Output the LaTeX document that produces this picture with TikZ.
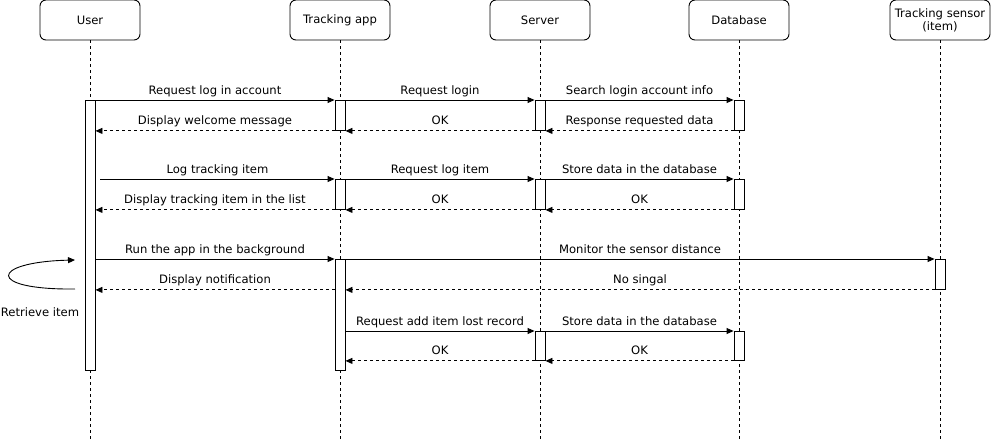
\documentclass[tikz,border=0pt]{standalone}
\usepackage{fontspec}
\setmainfont{DejaVu Sans}
\usepackage{tikz}
\usetikzlibrary{arrows.meta, positioning}
\definecolor{LineBlack}{HTML}{000000}

\tikzset{
  head/.style={draw=LineBlack, line width=0.9pt, rounded corners=6pt, fill=white,
               minimum width=100, minimum height=40, align=center, inner sep=1pt},
  life/.style={draw=LineBlack, line width=0.8pt, dash pattern=on 3pt off 3pt},
  act/.style={draw=LineBlack, line width=0.9pt, fill=white, minimum width=10,
              inner sep=0pt, anchor=north},
  call/.style={draw=LineBlack, line width=0.9pt, -{Triangle[length=7pt, width=6pt]}},
  reply/.style={call, dash pattern=on 3pt off 3pt},
  lbl/.style={anchor=base, yshift=6pt, inner sep=0pt},
}

\begin{document}
\begin{tikzpicture}[x=1pt, y=-1pt, font=\fontsize{11.6}{13}\selectfont]
  \useasboundingbox (0,0) rectangle (991,442);
  % Participants
  \node[head] (user)   at (90,20)  {User};
  \node[head] (app)    at (340,20) {Tracking app};
  \node[head] (server) at (540,20) {Server};
  \node[head] (db)     at (739,20) {Database};
  \node[head] (sensor) at (940,20) {Tracking sensor\\(item)};
  % Lifelines
  \foreach \p in {user, app, server, db, sensor}
    \draw[life] (\p.south) -- (\p.south |- 0,442);
  % Activation bars
  \node[act, minimum height=270] (uA)  at (90,100)  {};
  \node[act, minimum height=30]  (aA1) at (340,100) {};
  \node[act, minimum height=30]  (aA2) at (340,179) {};
  \node[act, minimum height=111] (aA3) at (340,259) {};
  \node[act, minimum height=30]  (sA1) at (540,100) {};
  \node[act, minimum height=30]  (sA2) at (540,179) {};
  \node[act, minimum height=29]  (sA3) at (540,331) {};
  \node[act, minimum height=30]  (dA1) at (739,100) {};
  \node[act, minimum height=30]  (dA2) at (739,179) {};
  \node[act, minimum height=29]  (dA3) at (739,331) {};
  \node[act, minimum height=30]  (nA)  at (940,259) {};
  % Log in
  \draw[call]  (uA.east |- aA1.north) -- node[lbl] {Request log in account} (aA1.north west);
  \draw[reply] (aA1.south west) -- node[lbl] {Display welcome message} (uA.east |- aA1.south);
  \draw[call]  (aA1.north east) -- node[lbl] {Request login} (sA1.north west);
  \draw[reply] (sA1.south west) -- node[lbl] {OK} (aA1.south east);
  \draw[call]  (sA1.north east) -- node[lbl] {Search login account info} (dA1.north west);
  \draw[reply] (dA1.south west) -- node[lbl] {Response requested data} (sA1.south east);
  % Log item
  \draw[call]  ([xshift=5pt]uA.east |- aA2.north) -- node[lbl] {Log tracking item} (aA2.north west);
  \draw[reply] (aA2.south west) -- node[lbl] {Display tracking item in the list} (uA.east |- aA2.south);
  \draw[call]  (aA2.north east) -- node[lbl] {Request log item} (sA2.north west);
  \draw[reply] (sA2.south west) -- node[lbl] {OK} (aA2.south east);
  \draw[call]  (sA2.north east) -- node[lbl] {Store data in the database} (dA2.north west);
  \draw[reply] (dA2.south west) -- node[lbl] {OK} (sA2.south east);
  % Monitoring
  \draw[call]  (uA.east |- aA3.north) -- node[lbl] {Run the app in the background} (aA3.north west);
  \draw[call]  (aA3.north east) -- node[lbl] {Monitor the sensor distance} (nA.north west);
  \draw[reply] (nA.south west) -- node[lbl] {No singal} (aA3.east |- nA.south);
  \draw[reply] (aA3.west |- nA.south) -- node[lbl] {Display notification} (uA.east |- nA.south);
  % Self loop
  \coordinate (loopS) at (75,289);
  \coordinate (loopE) at (75,260);
  \draw[call] (loopS) .. controls (-15,290) and (-10,262) .. (loopE);
  \node (retrieve) at (40,312) {Retrieve item};
  % Lost record
  \draw[call]  (aA3.east |- sA3.north) -- node[lbl] {Request add item lost record} (sA3.north west);
  \draw[reply] (sA3.south west) -- node[lbl] {OK} (aA3.east |- sA3.south);
  \draw[call]  (sA3.north east) -- node[lbl] {Store data in the database} (dA3.north west);
  \draw[reply] (dA3.south west) -- node[lbl] {OK} (sA3.south east);
\end{tikzpicture}
\end{document}
